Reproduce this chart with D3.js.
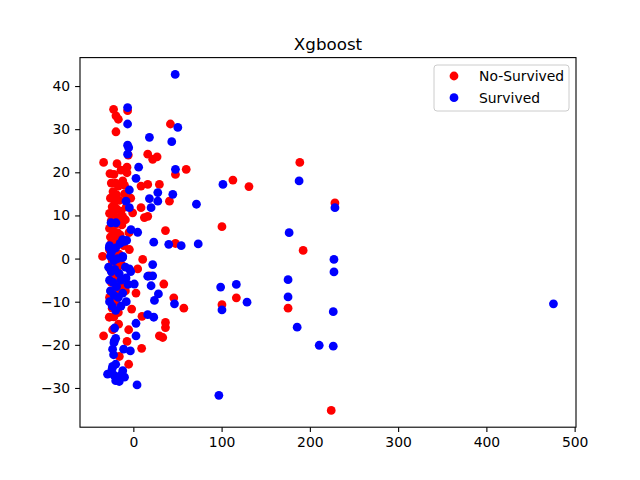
<!DOCTYPE html>
<html>
<head>
<meta charset="utf-8">
<script src="https://cdn.jsdelivr.net/npm/d3@7"></script>
<style>
  body { margin: 0; background: #fff; }
  text { font-family: "DejaVu Sans", sans-serif; }
</style>
</head>
<body>
<div id="chart"></div>
<script>
// chart title and legend labels
var title = "Xgboost";
var seriesNames = ["No-Survived", "Survived"];
var seriesColors = ["red", "blue"];

// tick values
var xTicks = [0, 100, 200, 300, 400, 500];
var yTicks = [-30, -20, -10, 0, 10, 20, 30, 40];

// No-Survived points [x, y]
var noSurvived = [
  [-22.4,34.6],[-6.5,34.3],[-19.7,33.1],[-17,32.3],[42,31.2],[-19.7,29.4],[-5.7,24.0],[16.3,24.2],
  [21.9,23.0],[26.9,23.6],[-33.7,22.3],[-18.5,22.0],[-7.2,21.2],[-26.5,19.7],[-7.2,19.9],[47.7,19.5],
  [59.9,20.7],[29.5,17.2],[16.3,17.2],[8.7,16.8],[40.9,13.3],[8.7,11.8],[12.5,9.5],[16.3,9.8],
  [-0.8,10.6],[-12.2,9.8],[36.4,6.5],[47.7,3.5],[-4.5,2.1],[-34.9,0.5],[10.6,-0.2],[4.9,-2.4],[18.2,-4],
  [34.5,-5.9],[3,-8.0],[45.8,-9.1],[57.2,-11.5],[-1.9,-11.7],[-27.3,-13.6],[9.8,-13.4],[36.4,-14.8],
  [36.4,-16.0],[-16.7,-15.2],[-23.5,-16.5],[-5.3,-16.5],[-33.7,-17.9],[29.5,-17.9],[33.3,-18.3],
  [-7.2,-19.2],[9.4,-20.8],[-15.9,-22.7],[-5.3,-24.5],
  [188.6,22.3],[112.8,18.2],[131,16.7],[228.4,12.9],[100.4,7.4],[192.4,1.9],[116.7,-9.1],[100.4,-10.7],
  [175.3,-11.5],[224.2,-35.2],
  [-22,19.5],[-25,17.5],[-20,17.5],[-17,16.8],[-23,15.5],[-19,14.8],[-26,14],[-21,13.2],[-16,13.5],
  [-24,12],[-19,11.5],[-14,11],[-27,10.5],[-22,10],[-17,9.5],[-25,8.8],[-20,8],[-13,7.8],[-27,7],
  [-23,6.5],[-18,6],[-26,5],[-21,4.5],[-15,5.5],[-25,3.5],[-19,3],[-27,2],[-22,1.5],[-16,1],[-24,-0.5],
  [-20,-1],[-13,-1.5],[-26,-2.5],[-18,-3],[-23,-4],[-15,-4.5],[-25,-5.5],[-19,-6],[-11,-6.5],[-22,-7.5],
  [-16,-8],[-9,-7.5],[-27,-9],[-20,-10],[-24,-11.5],[-17,-12.5],[-22,-13.5],
  [-10,15],[-8,12],[-12,18],[-9,9],[-5,6],[-11,3],[-14,20.5],[-10,17],[-3,14]
];

// Survived points [x, y]
var survived = [
  [47.4,42.7],[-6.5,35.0],[50.4,30.4],[-6.5,31.2],[18.2,28.1],[43.5,27.1],[-6.5,26.3],[-5.3,25.7],
  [-6.5,24.2],[6.0,21.2],[47.7,20.7],[3,18.6],[-4.5,15.9],[27.7,15.3],[44.7,14.9],[18.2,13.9],
  [27.7,13.3],[-8.3,13.3],[-4.5,11.8],[20.1,11.8],[71.5,12.6],[-25.3,8.3],[-19.7,8.3],[-2.7,6.7],
  [4.9,6.1],[-12.2,4.4],[-7.6,4.2],[23.1,3.8],[40.1,3.3],[54.2,3.0],[73.5,3.4],[-27.3,2.5],[-12.2,0.2],
  [21.9,-1.4],[-4.5,-2.4],[21.9,-4],[-8.3,-4.5],[16.3,-4.1],[1.1,-5.9],[20.1,-6.3],[28.4,-8.2],
  [23.9,-9.7],[46.6,-10.5],[16.3,-13],[23.1,-13.6],[3,-15.0],[-21.2,-16.1],[3,-17.9],[-21.6,-19.1],
  [-23.5,-21.0],[-11,-21.0],[-3.4,-21.4],[-22.4,-22.3],[-23.5,-25.0],[-29.2,-26.8],[4.2,-29.3],
  [187.8,18.0],[101.5,17.2],[228.4,11.8],[176.5,6.0],[227.3,-0.2],[227.3,-3.1],[175.3,-4.9],
  [98.9,-6.6],[116.7,-6.0],[128.8,-10.1],[100.4,-11.9],[175.3,-8.9],[185.6,-15.9],[210.6,-20.1],
  [226.5,-20.3],[226.5,-12.3],[96.9,-31.7],[476,-10.5],
  [-27,3],[-24,2],[-20,2.5],[-15,3.5],[-10,4],[-26,0.5],[-22,-0.5],[-18,0],[-12,0.5],[-28,-2],
  [-25,-3],[-21,-2.5],[-16,-3.5],[-9,-2],[-27,-5],[-23,-5.5],[-19,-6.5],[-14,-5],[-26,-7.5],[-22,-8.5],
  [-17,-9],[-12,-8],[-27,-10],[-24,-11],[-20,-12],[-14,-11],[-8,-10],[-6,-6],[-3,-3],
  [-26,-26.5],[-22,-27],[-18,-27.5],[-14,-27],[-10,-27.5],[-20,-28.3],[-16,-28.5],[-12,-26],
  [-24,-25.5],[-20,-24.5],[-22,-19.5],[-20,-18.5],[-25,1.5]
];

var W = 640, H = 480;
var margin = {top: 57.6, right: 64, bottom: 52.8, left: 80},
  width = W - margin.left - margin.right,
  height = H - margin.top - margin.bottom;

var svg = d3.select("#chart")
  .append("svg")
    .attr("width", W)
    .attr("height", H);

svg.append("rect").attr("width", W).attr("height", H).attr("fill", "#fff");

var g = svg.append("g")
  .attr("transform", "translate(" + margin.left + "," + margin.top + ")");

// matplotlib-like 5% padding on the data range
var allPts = noSurvived.concat(survived);
var xExt = d3.extent(allPts, d => d[0]), yExt = d3.extent(allPts, d => d[1]);
var xPad = (xExt[1] - xExt[0]) * 0.05, yPad = (yExt[1] - yExt[0]) * 0.05;

var x = d3.scaleLinear()
  .domain([xExt[0] - xPad, xExt[1] + xPad])
  .range([0, width]);
var y = d3.scaleLinear()
  .domain([yExt[0] - yPad, yExt[1] + yPad])
  .range([height, 0]);

// points, red first then blue on top
var sets = [noSurvived, survived];
sets.forEach(function(pts, i) {
  g.append("g").selectAll("circle")
    .data(pts)
    .enter()
    .append("circle")
      .attr("cx", d => x(d[0]))
      .attr("cy", d => y(d[1]))
      .attr("r", 4.4)
      .style("fill", seriesColors[i]);
});

// axes
var xAxis = g.append("g")
  .attr("transform", "translate(0," + height + ")")
  .call(d3.axisBottom(x).tickValues(xTicks).tickSize(4.9).tickPadding(4.9).tickSizeOuter(0));
var yAxis = g.append("g")
  .call(d3.axisLeft(y).tickValues(yTicks).tickSize(4.9).tickPadding(4.9).tickSizeOuter(0)
    .tickFormat(d => d < 0 ? "\u2212" + Math.abs(d) : d));

[xAxis, yAxis].forEach(function(a) {
  a.selectAll("text").style("font-size", "13.9px").attr("fill", "#000");
  a.selectAll("line").attr("stroke", "#000").attr("stroke-width", 1.1);
  a.select(".domain").remove();
});

// frame
g.append("rect")
  .attr("width", width).attr("height", height)
  .attr("fill", "none").attr("stroke", "#000").attr("stroke-width", 1.1);

// title
svg.append("text")
  .attr("x", margin.left + width / 2)
  .attr("y", margin.top - 8)
  .attr("text-anchor", "middle")
  .style("font-size", "16.7px")
  .text(title);

// legend
var leg = svg.append("g").attr("transform", "translate(434,65)");
leg.append("rect")
  .attr("width", 135).attr("height", 46).attr("rx", 3)
  .attr("fill", "#fff").attr("fill-opacity", 0.8)
  .attr("stroke", "#ccc").attr("stroke-width", 1);
seriesNames.forEach(function(name, i) {
  leg.append("circle")
    .attr("cx", 20).attr("cy", 11 + i * 21.7).attr("r", 4.4)
    .style("fill", seriesColors[i]);
  leg.append("text")
    .attr("x", 45).attr("y", 11 + i * 21.7)
    .attr("dy", "0.35em")
    .style("font-size", "13.9px")
    .text(name);
});
</script>
</body>
</html>
